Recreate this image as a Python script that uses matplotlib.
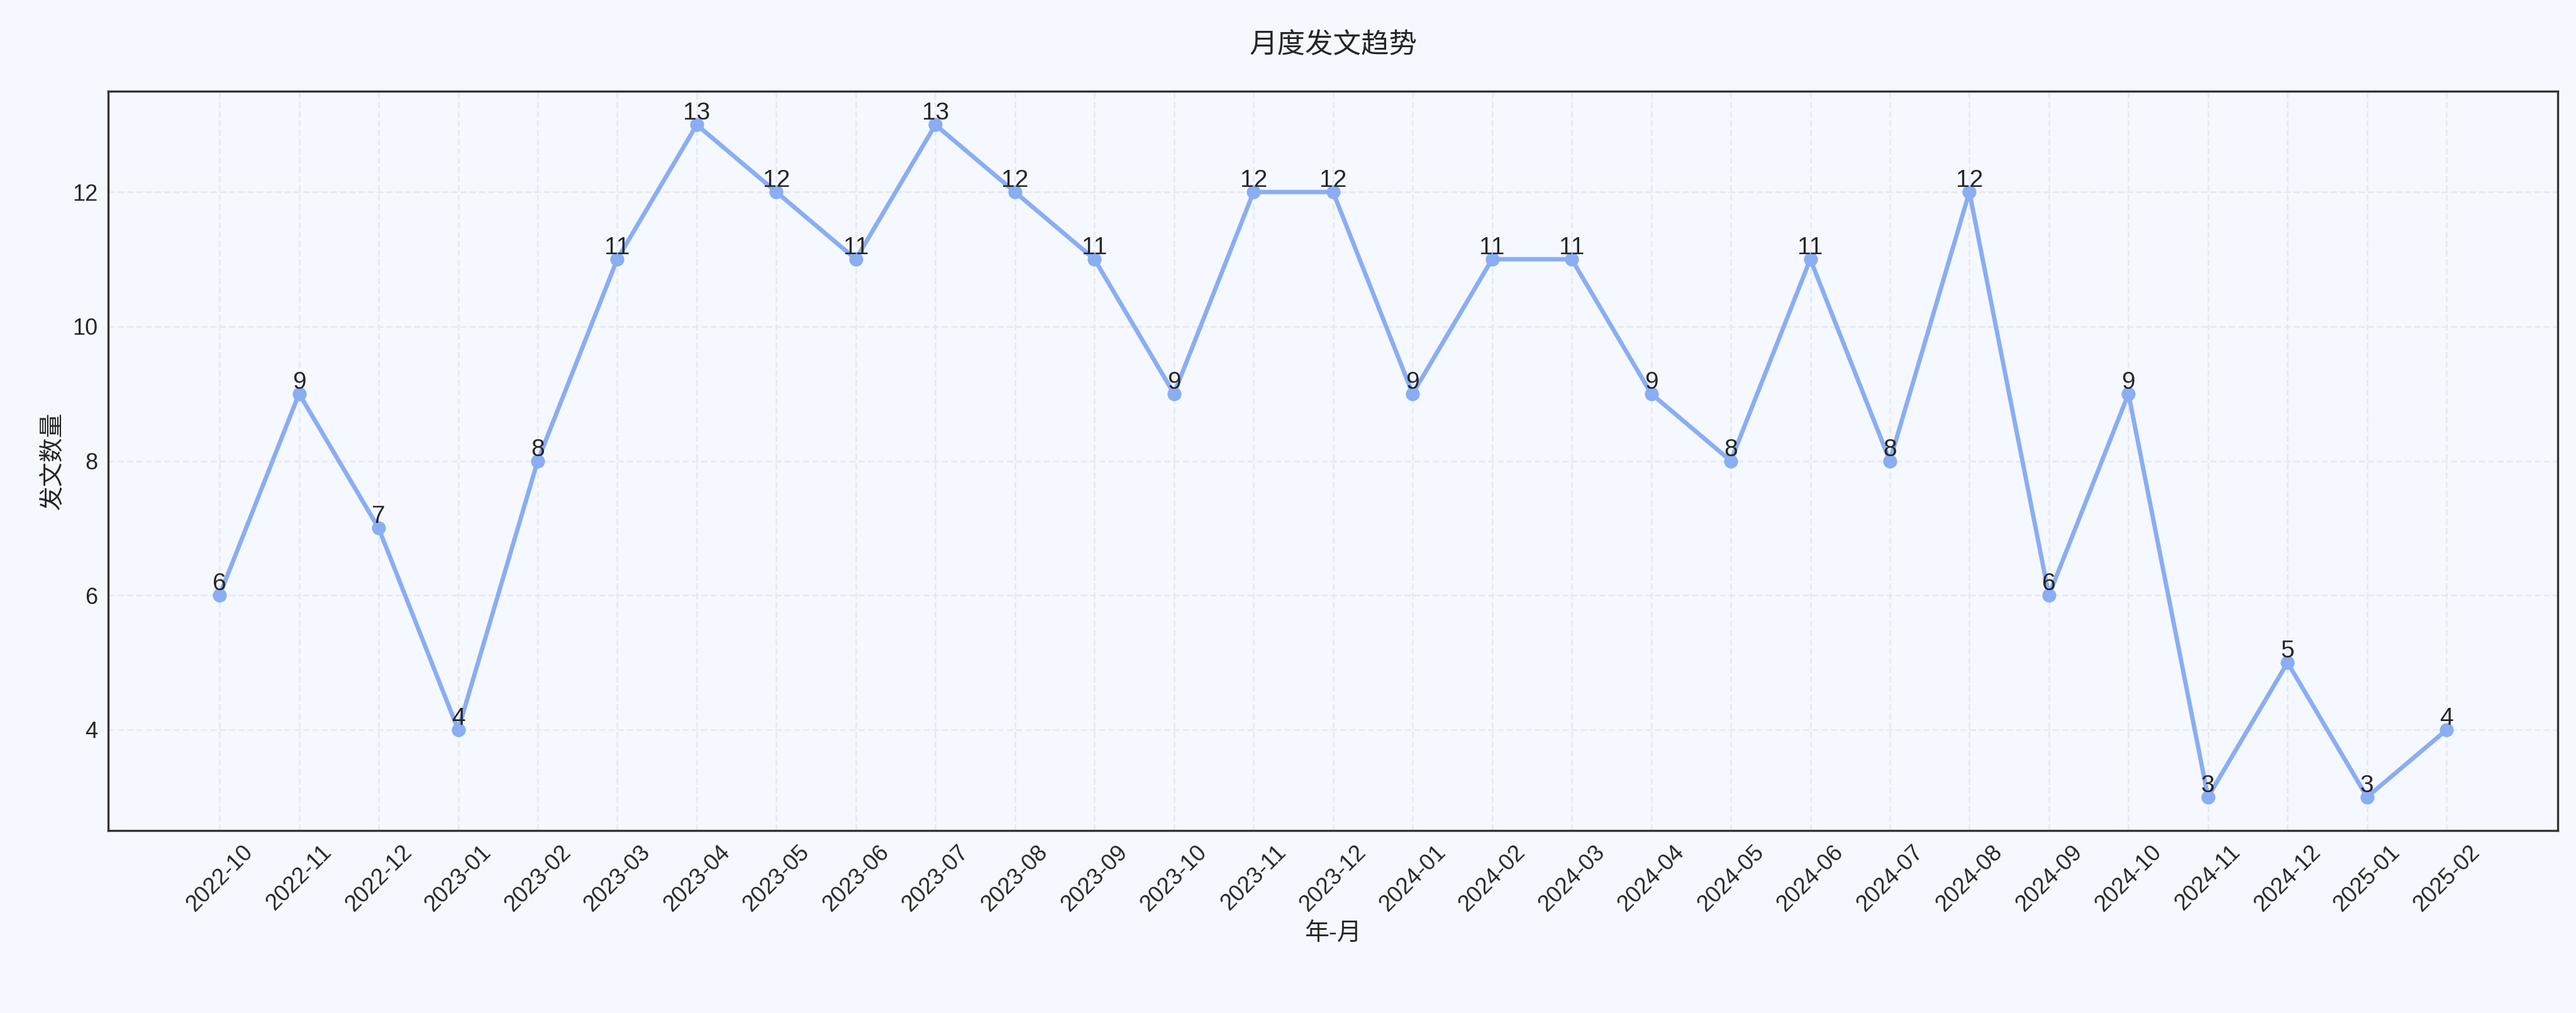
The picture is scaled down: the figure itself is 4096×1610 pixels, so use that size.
import matplotlib.pyplot as plt

plt.rcParams['font.family'] = ['Liberation Sans', 'Noto Sans CJK SC', 'DejaVu Sans']

months = ['2022-10', '2022-11', '2022-12', '2023-01', '2023-02', '2023-03', '2023-04',
          '2023-05', '2023-06', '2023-07', '2023-08', '2023-09', '2023-10', '2023-11',
          '2023-12', '2024-01', '2024-02', '2024-03', '2024-04', '2024-05', '2024-06',
          '2024-07', '2024-08', '2024-09', '2024-10', '2024-11', '2024-12', '2025-01',
          '2025-02']
counts = [6, 9, 7, 4, 8, 11, 13, 12, 11, 13, 12, 11, 9, 12, 12, 9, 11, 11, 9, 8, 11, 8,
          12, 6, 9, 3, 5, 3, 4]

bg = '#F5F9FF'
fig, ax = plt.subplots(figsize=(20.48, 8.05), dpi=200)
fig.patch.set_facecolor(bg)
ax.set_facecolor(bg)

x = range(len(months))
ax.plot(x, counts, color='#8AADF4', linewidth=2.5, marker='o', markersize=7)
for i, v in zip(x, counts):
    ax.text(i, v, str(v), ha='center', va='bottom', fontsize=14, color='#262626')

ax.set_xticks(list(x))
ax.set_xticklabels(months, rotation=45, fontsize=13, color='#262626')
ax.set_yticks([4, 6, 8, 10, 12])
ax.tick_params(axis='y', labelsize=13, labelcolor='#262626')
ax.tick_params(length=0, pad=6)
ax.set_ylim(2.5, 13.5)
ax.set_xlim(-1.4, 29.4)
ax.grid(True, linestyle='--', color='#E3E8EE', alpha=0.8, linewidth=1)
for s in ax.spines.values():
    s.set_color('#333333')
    s.set_linewidth(1.2)

ax.set_title('月度发文趋势', fontsize=16, pad=22, color='#262626')
ax.set_xlabel('年-月', fontsize=14, color='#262626')
ax.set_ylabel('发文数量', fontsize=14, color='#262626')

plt.subplots_adjust(left=0.042, right=0.993, top=0.91, bottom=0.18)
plt.savefig('out.png', dpi=200, facecolor=bg)
